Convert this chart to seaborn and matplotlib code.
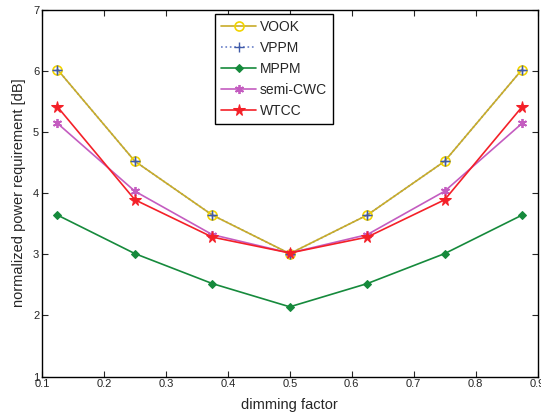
# Normalized power requirement vs dimming factor for several dimming schemes

import pandas as pd
import matplotlib
matplotlib.use("Agg")
import matplotlib.pyplot as plt
import seaborn as sns

# Data
dimming = [0.125, 0.25, 0.375, 0.5, 0.625, 0.75, 0.875]
vook = [6.02, 4.52, 3.64, 3.01, 3.64, 4.52, 6.02]
vppm = [6.02, 4.52, 3.64, 3.01, 3.64, 4.52, 6.02]
mppm = [3.64, 3.01, 2.52, 2.14, 2.52, 3.01, 3.64]
semi_cwc = [5.14, 4.03, 3.32, 3.02, 3.32, 4.03, 5.14]
wtcc = [5.41, 3.89, 3.28, 3.02, 3.28, 3.89, 5.41]

series_names = ["VOOK", "VPPM", "MPPM", "semi-CWC", "WTCC"]
series_values = [vook, vppm, mppm, semi_cwc, wtcc]

# Long-form table for seaborn
df = pd.concat(
    [pd.DataFrame({"dimming": dimming, "power": vals, "scheme": name})
     for name, vals in zip(series_names, series_values)],
    ignore_index=True,
)

sns.set_style("white")
plt.rcParams["font.family"] = ["Liberation Sans", "DejaVu Sans"]

# Line/marker style per scheme
styles = {
    "VOOK": dict(color="#c8ac2a", marker="o", markersize=6.5, markerfacecolor="none",
                 markeredgecolor="#f2d400", markeredgewidth=1.2, linestyle="-", zorder=3),
    "VPPM": dict(color="#6a80c8", marker="+", markersize=7, markeredgecolor="#3f5aa8",
                 markeredgewidth=1.0, linestyle=":", zorder=2.5),
    "MPPM": dict(color="#168a3c", marker="D", markersize=4.5, markerfacecolor="#168a3c",
                 markeredgecolor="#168a3c", linestyle="-", zorder=3),
    "semi-CWC": dict(color="#c45cc0", marker=(6, 2, 0), markersize=6.5,
                     markeredgecolor="#c45cc0", markeredgewidth=1.3, linestyle="-", zorder=3),
    "WTCC": dict(color="#f42028", marker="*", markersize=8.5, markerfacecolor="#f42028",
                 markeredgecolor="#f42028", linestyle="-", zorder=3.5),
}

fig = plt.figure(figsize=(5.41, 4.17), dpi=100)
ax = fig.add_axes([0.0776, 0.097, 0.916, 0.88])

for name in series_names:
    sub = df[df["scheme"] == name]
    st = styles[name]
    sns.lineplot(data=sub, x="dimming", y="power", ax=ax, label=name,
                 linewidth=1.2, **st)

# Keep VPPM '+' markers visible above the VOOK circles
vppm_line = ax.lines[1]
ax.plot(dimming, vppm, linestyle="none", marker="+", markersize=7,
        markeredgecolor="#3f5aa8", markeredgewidth=1.0, zorder=3.2)

ax.set_xlim(0.1, 0.9)
ax.set_ylim(1, 7)
ax.set_xticks([0.1, 0.2, 0.3, 0.4, 0.5, 0.6, 0.7, 0.8, 0.9])
ax.set_xticklabels(["0.1", "0.2", "0.3", "0.4", "0.5", "0.6", "0.7", "0.8", "0.9"])
ax.set_yticks([1, 2, 3, 4, 5, 6, 7])
ax.tick_params(direction="in", length=4, width=0.8, labelsize=8,
               top=True, right=True, bottom=True, left=True, pad=2)
for pos in ["left", "right", "top", "bottom"]:
    ax.spines[pos].set_color("black")
    ax.spines[pos].set_linewidth(1.0)

ax.set_xlabel("dimming factor", fontsize=10.5, labelpad=6)
ax.set_ylabel("normalized power requirement [dB]", fontsize=10.5, labelpad=5)

leg = ax.legend(loc="upper left", bbox_to_anchor=(0.349, 0.988), fontsize=10,
                frameon=True, fancybox=False, edgecolor="black", framealpha=1,
                handlelength=2.5, borderpad=0.45, labelspacing=0.5, handletextpad=0.3,
                borderaxespad=0)
leg.get_frame().set_linewidth(1.0)

plt.savefig("out.png", dpi=100)
plt.close()
